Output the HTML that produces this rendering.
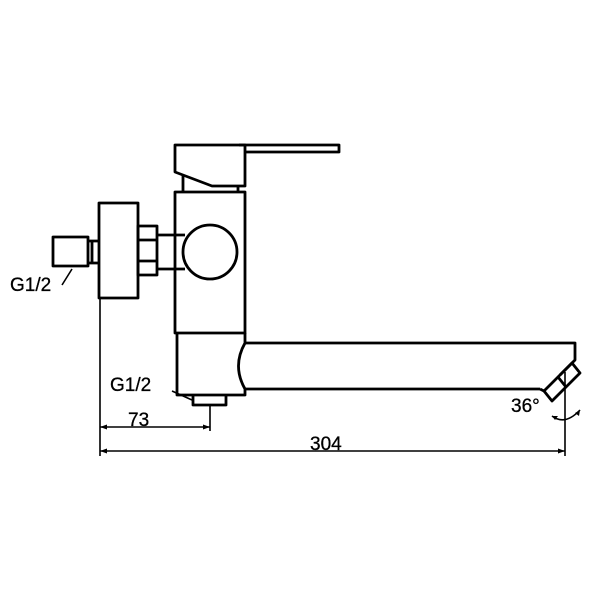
<!DOCTYPE html>
<html><head><meta charset="utf-8"><style>
html,body{margin:0;padding:0;background:#fff}
svg text{font-family:"Liberation Sans",Arial,sans-serif;font-size:19px;fill:#000;stroke:#000;stroke-width:0.3}
</style></head><body>
<svg width="600" height="600" viewBox="0 0 600 600" xmlns="http://www.w3.org/2000/svg">
<g fill="none" stroke="#000" stroke-width="2.8" stroke-linejoin="round">
<path d="M239 145 H339 V152 H245"/>
<path d="M175 145 H245 V186 H212 L175 172 Z"/>
<path d="M183 175 V192 M238 186 V192"/>
<rect x="175" y="192" width="70" height="141"/>
<path d="M177 333 V395 H245 V389 Q232 366 245 343 V333"/>
<circle cx="210" cy="252" r="27"/>
<path d="M157 235 H185 M157 269 H185"/>
<rect x="138" y="226" width="19" height="49"/>
<path d="M138 240 H157 M138 261 H157"/>
<rect x="99" y="203" width="39" height="95"/>
<path d="M88 241 H99 M88 263 H99 M92 241 V263"/>
<rect x="53" y="237" width="35" height="29"/>
<path d="M245 343 H575 V360 L560 375 M540 389 H245"/>
<path d="M544 391 L572 363 L580 373 L552 401 Z"/>
<path d="M540 389 L544 391 M558 377 L566 387"/>
<path d="M193 395 V405 H226 V395"/>
<g stroke-width="1.6">
<path d="M100 298 V456 M210 405 V431 M565 372 V456"/>
<path d="M100 427 H210 M100 451 H565"/>
<path d="M62 285 L72 269 M172 391 L192 400"/>
<path d="M552 416 Q565 426 580 410"/>
</g>
</g>
<g fill="#000">
<path d="M100 427 l7 -2.5 v5 z M210 427 l-7 -2.5 v5 z M100 451 l7 -2.5 v5 z M565 451 l-7 -2.5 v5 z"/>
<path d="M552 416 l6 0 l-3 4 z M580 410 l-1 6 l-4 -3 z"/>
</g>
<text x="10" y="291">G1/2</text>
<text x="110" y="391">G1/2</text>
<text x="128" y="426">73</text>
<text x="310" y="450">304</text>
<text x="511" y="412">36°</text>
</svg>
</body></html>
